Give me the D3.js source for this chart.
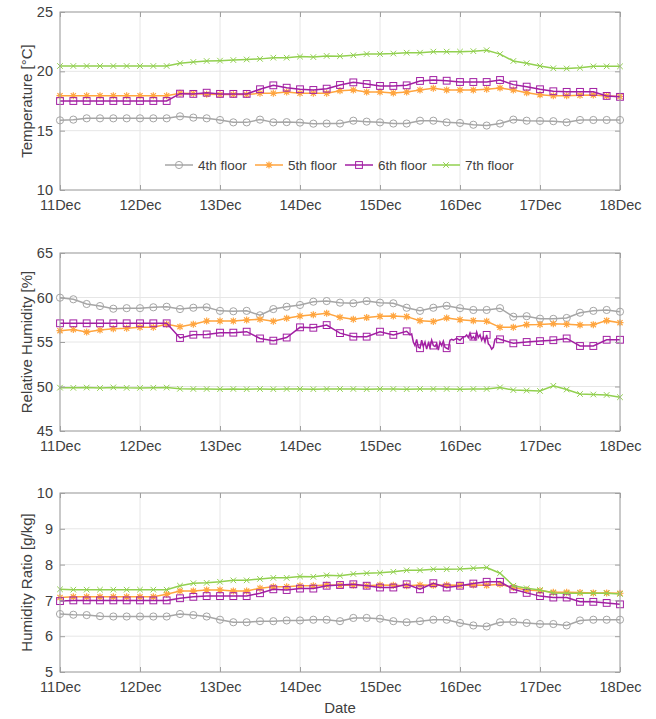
<!DOCTYPE html>
<html>
<head>
<meta charset="utf-8">
<script src="https://cdn.jsdelivr.net/npm/d3@7"></script>
<style>
body { margin: 0; background: #fff; }
text { font-family: "Liberation Sans", Arial, sans-serif; fill: #404040; }
</style>
</head>
<body>
<script>
// readings every 4 hours, 11 Dec 00:00 -> 18 Dec 00:00 (43 samples)
var floors = ["4th floor", "5th floor", "6th floor", "7th floor"];
var dayTicks = [11, 12, 13, 14, 15, 16, 17, 18];

var temp4 = [15.87,15.93,16.04,16.04,16.04,16.04,16.04,16.04,16.04,16.21,16.1,16.04,15.9,15.7,15.7,15.93,15.7,15.72,15.68,15.59,15.6,
             15.6,15.84,15.76,15.7,15.6,15.6,15.84,15.84,15.7,15.65,15.5,15.43,15.6,15.93,15.84,15.82,15.8,15.7,15.9,15.9,15.9,15.9];
var temp5 = [17.95,17.95,17.95,17.95,17.95,17.95,17.95,17.95,17.95,18.15,18.13,18.07,18.05,18.05,18.05,18.15,18.15,18.26,18.15,18.15,18.15,
             18.37,18.43,18.26,18.26,18.18,18.26,18.43,18.57,18.43,18.43,18.43,18.49,18.6,18.43,18.2,18.03,17.95,17.95,17.98,18.0,17.93,17.88];
var temp6 = [17.5,17.5,17.5,17.5,17.5,17.5,17.5,17.5,17.5,18.12,18.1,18.2,18.1,18.1,18.1,18.49,18.82,18.62,18.49,18.43,18.54,
             18.85,19.07,18.93,18.77,18.77,18.82,19.19,19.27,19.21,19.1,19.1,19.1,19.27,18.88,18.71,18.49,18.32,18.27,18.27,18.27,17.93,17.85];
var temp7 = [20.45,20.45,20.45,20.45,20.45,20.45,20.45,20.45,20.45,20.68,20.79,20.87,20.9,20.95,21.0,21.05,21.15,21.15,21.24,21.2,21.3,
             21.28,21.35,21.46,21.46,21.5,21.57,21.57,21.66,21.66,21.66,21.7,21.78,21.45,20.87,20.68,20.45,20.26,20.24,20.3,20.42,20.42,20.42];

var rh4 = [59.98,59.8,59.27,59.04,58.74,58.8,58.8,58.9,58.96,58.7,58.85,58.9,58.5,58.45,58.5,58.0,58.7,58.96,59.16,59.53,59.6,
           59.42,59.35,59.6,59.42,59.35,58.85,58.5,58.85,59.07,58.8,58.6,58.6,58.8,57.84,57.9,57.62,57.6,57.7,58.29,58.5,58.6,58.4];
var rh5 = [56.27,56.4,56.12,56.35,56.5,56.55,56.65,56.65,57.0,56.72,57.0,57.36,57.36,57.36,57.47,57.55,57.33,57.66,57.92,58.07,58.22,
           57.77,57.55,57.74,57.88,57.92,57.85,57.4,57.3,57.7,57.5,57.4,57.33,56.65,56.65,56.95,56.98,57.06,57.0,56.92,56.95,57.4,57.17];
var rh6 = [57.1,57.1,57.1,57.1,57.1,57.1,57.1,57.1,57.1,55.45,55.82,55.85,56.05,56.05,56.16,55.4,55.15,55.5,56.65,56.6,56.9,
           56.0,55.6,55.6,56.16,55.8,56.2,54.3,54.6,54.3,55.22,55.6,55.8,55.3,54.85,55.0,55.1,55.2,55.4,54.55,54.55,55.25,55.25];
var rh7 = [49.87,49.85,49.88,49.83,49.9,49.85,49.84,49.86,49.88,49.74,49.72,49.72,49.7,49.72,49.7,49.72,49.7,49.72,49.72,49.7,49.72,
           49.72,49.72,49.7,49.72,49.72,49.7,49.72,49.72,49.72,49.7,49.72,49.72,49.9,49.6,49.55,49.5,50.08,49.66,49.16,49.1,49.05,48.8];
// 6th floor RH, half-hourly, 15 Dec 08:00 -> 16 Dec 12:00 (noisy stretch)
var rh6Detail = [56.2,56.0,55.8,55.9,55.0,54.6,55.3,54.4,54.3,55.2,54.5,55.0,54.2,54.9,54.4,55.2,54.6,54.5,54.8,54.1,55.0,54.6,55.1,54.4,54.3,
                 54.2,55.2,55.3,55.2,55.3,55.4,55.3,55.2,55.4,55.6,55.6,55.8,55.5,56.0,55.4,55.6,55.3,56.1,55.5,55.8,55.2,55.6,55.0,55.8,
                 54.8,54.6,54.2,54.4,55.3,55.4,55.4,55.3];

var hr4 = [6.62,6.6,6.59,6.56,6.55,6.55,6.55,6.55,6.55,6.62,6.59,6.55,6.46,6.39,6.39,6.42,6.42,6.44,6.44,6.46,6.46,
           6.42,6.51,6.51,6.49,6.42,6.39,6.42,6.46,6.46,6.37,6.3,6.27,6.39,6.4,6.37,6.34,6.34,6.3,6.44,6.46,6.46,6.46];
var hr5 = [7.08,7.1,7.1,7.1,7.1,7.1,7.1,7.1,7.17,7.26,7.26,7.29,7.29,7.26,7.26,7.34,7.38,7.38,7.41,7.41,7.43,
           7.42,7.42,7.41,7.43,7.42,7.41,7.43,7.42,7.43,7.42,7.43,7.42,7.45,7.36,7.29,7.27,7.23,7.23,7.22,7.21,7.21,7.2];
var hr6 = [6.98,7.0,7.0,7.0,7.0,7.0,7.0,7.0,7.0,7.06,7.1,7.12,7.12,7.12,7.12,7.2,7.31,7.29,7.33,7.33,7.41,
           7.43,7.45,7.41,7.36,7.36,7.45,7.31,7.48,7.36,7.41,7.47,7.52,7.52,7.31,7.21,7.12,7.08,7.08,6.96,6.96,6.93,6.89];
var hr7 = [7.31,7.3,7.3,7.3,7.3,7.3,7.3,7.3,7.3,7.41,7.48,7.49,7.52,7.56,7.56,7.6,7.63,7.63,7.67,7.66,7.7,
           7.69,7.74,7.76,7.77,7.8,7.84,7.84,7.87,7.87,7.88,7.9,7.92,7.76,7.41,7.34,7.29,7.21,7.2,7.2,7.2,7.2,7.18];

var colors = ["#a6a6a6", "#ffa53f", "#a21fa3", "#92d050"];
var shapes = ["circle", "star", "square", "cross"];

var times = d3.range(43).map(i => new Date(2020, 11, 11, i * 4));
var detailTimes = d3.range(rh6Detail.length).map(i => new Date(2020, 11, 15, 8, i * 30));

var svg = d3.select("body").append("svg")
  .attr("width", 656).attr("height", 719);

var x = d3.scaleTime()
  .domain([new Date(2020, 11, 11), new Date(2020, 11, 18)])
  .range([60, 620]);

function marker(g, shape, color) {
  if (shape == "circle") {
    g.append("circle").attr("r", 3.6).attr("fill", "none").attr("stroke", color);
  } else if (shape == "square") {
    g.append("rect").attr("x", -3.4).attr("y", -3.4).attr("width", 6.8).attr("height", 6.8)
      .attr("fill", "none").attr("stroke", color);
  } else if (shape == "star") {
    g.append("path").attr("d", "M-3.5,0H3.5M0,-3.5V3.5M-2.6,-2.6L2.6,2.6M-2.6,2.6L2.6,-2.6")
      .attr("stroke", color).attr("stroke-width", 1.2);
  } else {
    g.append("path").attr("d", "M-2.8,-2.8L2.8,2.8M-2.8,2.8L2.8,-2.8")
      .attr("stroke", color).attr("stroke-width", 1);
  }
}

function panel(top, bottom, yDomain, yTicks, label, series) {
  var y = d3.scaleLinear().domain(yDomain).range([bottom, top]);
  var g = svg.append("g");

  // grid
  g.selectAll("line.vg").data(dayTicks).enter().append("line")
    .attr("x1", d => x(new Date(2020, 11, d))).attr("x2", d => x(new Date(2020, 11, d)))
    .attr("y1", top).attr("y2", bottom).attr("stroke", "#e6e6e6");
  g.selectAll("line.hg").data(yTicks).enter().append("line")
    .attr("x1", 60).attr("x2", 620)
    .attr("y1", d => y(d)).attr("y2", d => y(d)).attr("stroke", "#e6e6e6");

  // series
  series.forEach(function(s, k) {
    var pts = times.map((t, i) => [t, s[i]]);
    if (s === rh6) {
      var a = detailTimes[0], b = detailTimes[detailTimes.length - 1];
      pts = pts.filter(p => p[0] < a || p[0] > b)
        .concat(detailTimes.map((t, i) => [t, rh6Detail[i]]))
        .sort((p, q) => p[0] - q[0]);
    }
    g.append("path")
      .attr("d", d3.line().x(p => x(p[0])).y(p => y(p[1]))(pts))
      .attr("fill", "none").attr("stroke", colors[k]).attr("stroke-width", 1.5);
    g.selectAll("g.m" + k).data(s).enter().append("g")
      .attr("transform", (d, i) => "translate(" + x(times[i]) + "," + y(d) + ")")
      .each(function() { marker(d3.select(this), shapes[k], colors[k]); });
  });

  // box + inward ticks
  g.append("rect").attr("x", 60).attr("y", top).attr("width", 560).attr("height", bottom - top)
    .attr("fill", "none").attr("stroke", "#a0a0a0");
  var yl = d3.axisLeft(y).tickValues(yTicks).tickSize(-5).tickPadding(7).tickFormat(d3.format("d"));
  var yr = d3.axisRight(y).tickValues(yTicks).tickSize(-5).tickFormat("");
  var xb = d3.axisBottom(x).tickValues(dayTicks.map(d => new Date(2020, 11, d)))
    .tickSize(-5).tickPadding(10).tickFormat(d3.timeFormat("%d%b"));
  var xt = d3.axisTop(x).tickValues(dayTicks.map(d => new Date(2020, 11, d))).tickSize(-5).tickFormat("");
  [[yl, "translate(60,0)"], [yr, "translate(620,0)"], [xb, "translate(0," + bottom + ")"], [xt, "translate(0," + top + ")"]]
    .forEach(function(a) {
      var ax = g.append("g").attr("transform", a[1]).call(a[0]);
      ax.select(".domain").remove();
      ax.selectAll("line").attr("stroke", "#a0a0a0");
      ax.selectAll("text").attr("font-size", 14.5).attr("font-family", null).style("fill", "#404040");
    });

  g.append("text")
    .attr("transform", "translate(32," + (top + bottom) / 2 + ") rotate(-90)")
    .attr("text-anchor", "middle").attr("font-size", 15)
    .text(label);
  return g;
}

var p1 = panel(12, 190, [10, 25], [10, 15, 20, 25], "Temperature [°C]", [temp4, temp5, temp6, temp7]);
panel(253, 431, [45, 65], [45, 50, 55, 60, 65], "Relative Humidity [%]", [rh4, rh5, rh6, rh7]);
panel(493, 672, [5, 10], [5, 6, 7, 8, 9, 10], "Humidity Ratio [g/kg]", [hr4, hr5, hr6, hr7]);

// legend
var legX = [165, 255, 345, 432];
floors.forEach(function(f, k) {
  var lg = p1.append("g").attr("transform", "translate(" + legX[k] + ",165)");
  lg.append("line").attr("x1", 0).attr("x2", 28).attr("stroke", colors[k]).attr("stroke-width", 1.5);
  marker(lg.append("g").attr("transform", "translate(14,0)"), shapes[k], colors[k]);
  lg.append("text").attr("x", 33).attr("dy", "0.35em").attr("font-size", 13.5).text(f);
});

svg.append("text").attr("x", 340).attr("y", 713).attr("text-anchor", "middle")
  .attr("font-size", 15).text("Date");
</script>
</body>
</html>
